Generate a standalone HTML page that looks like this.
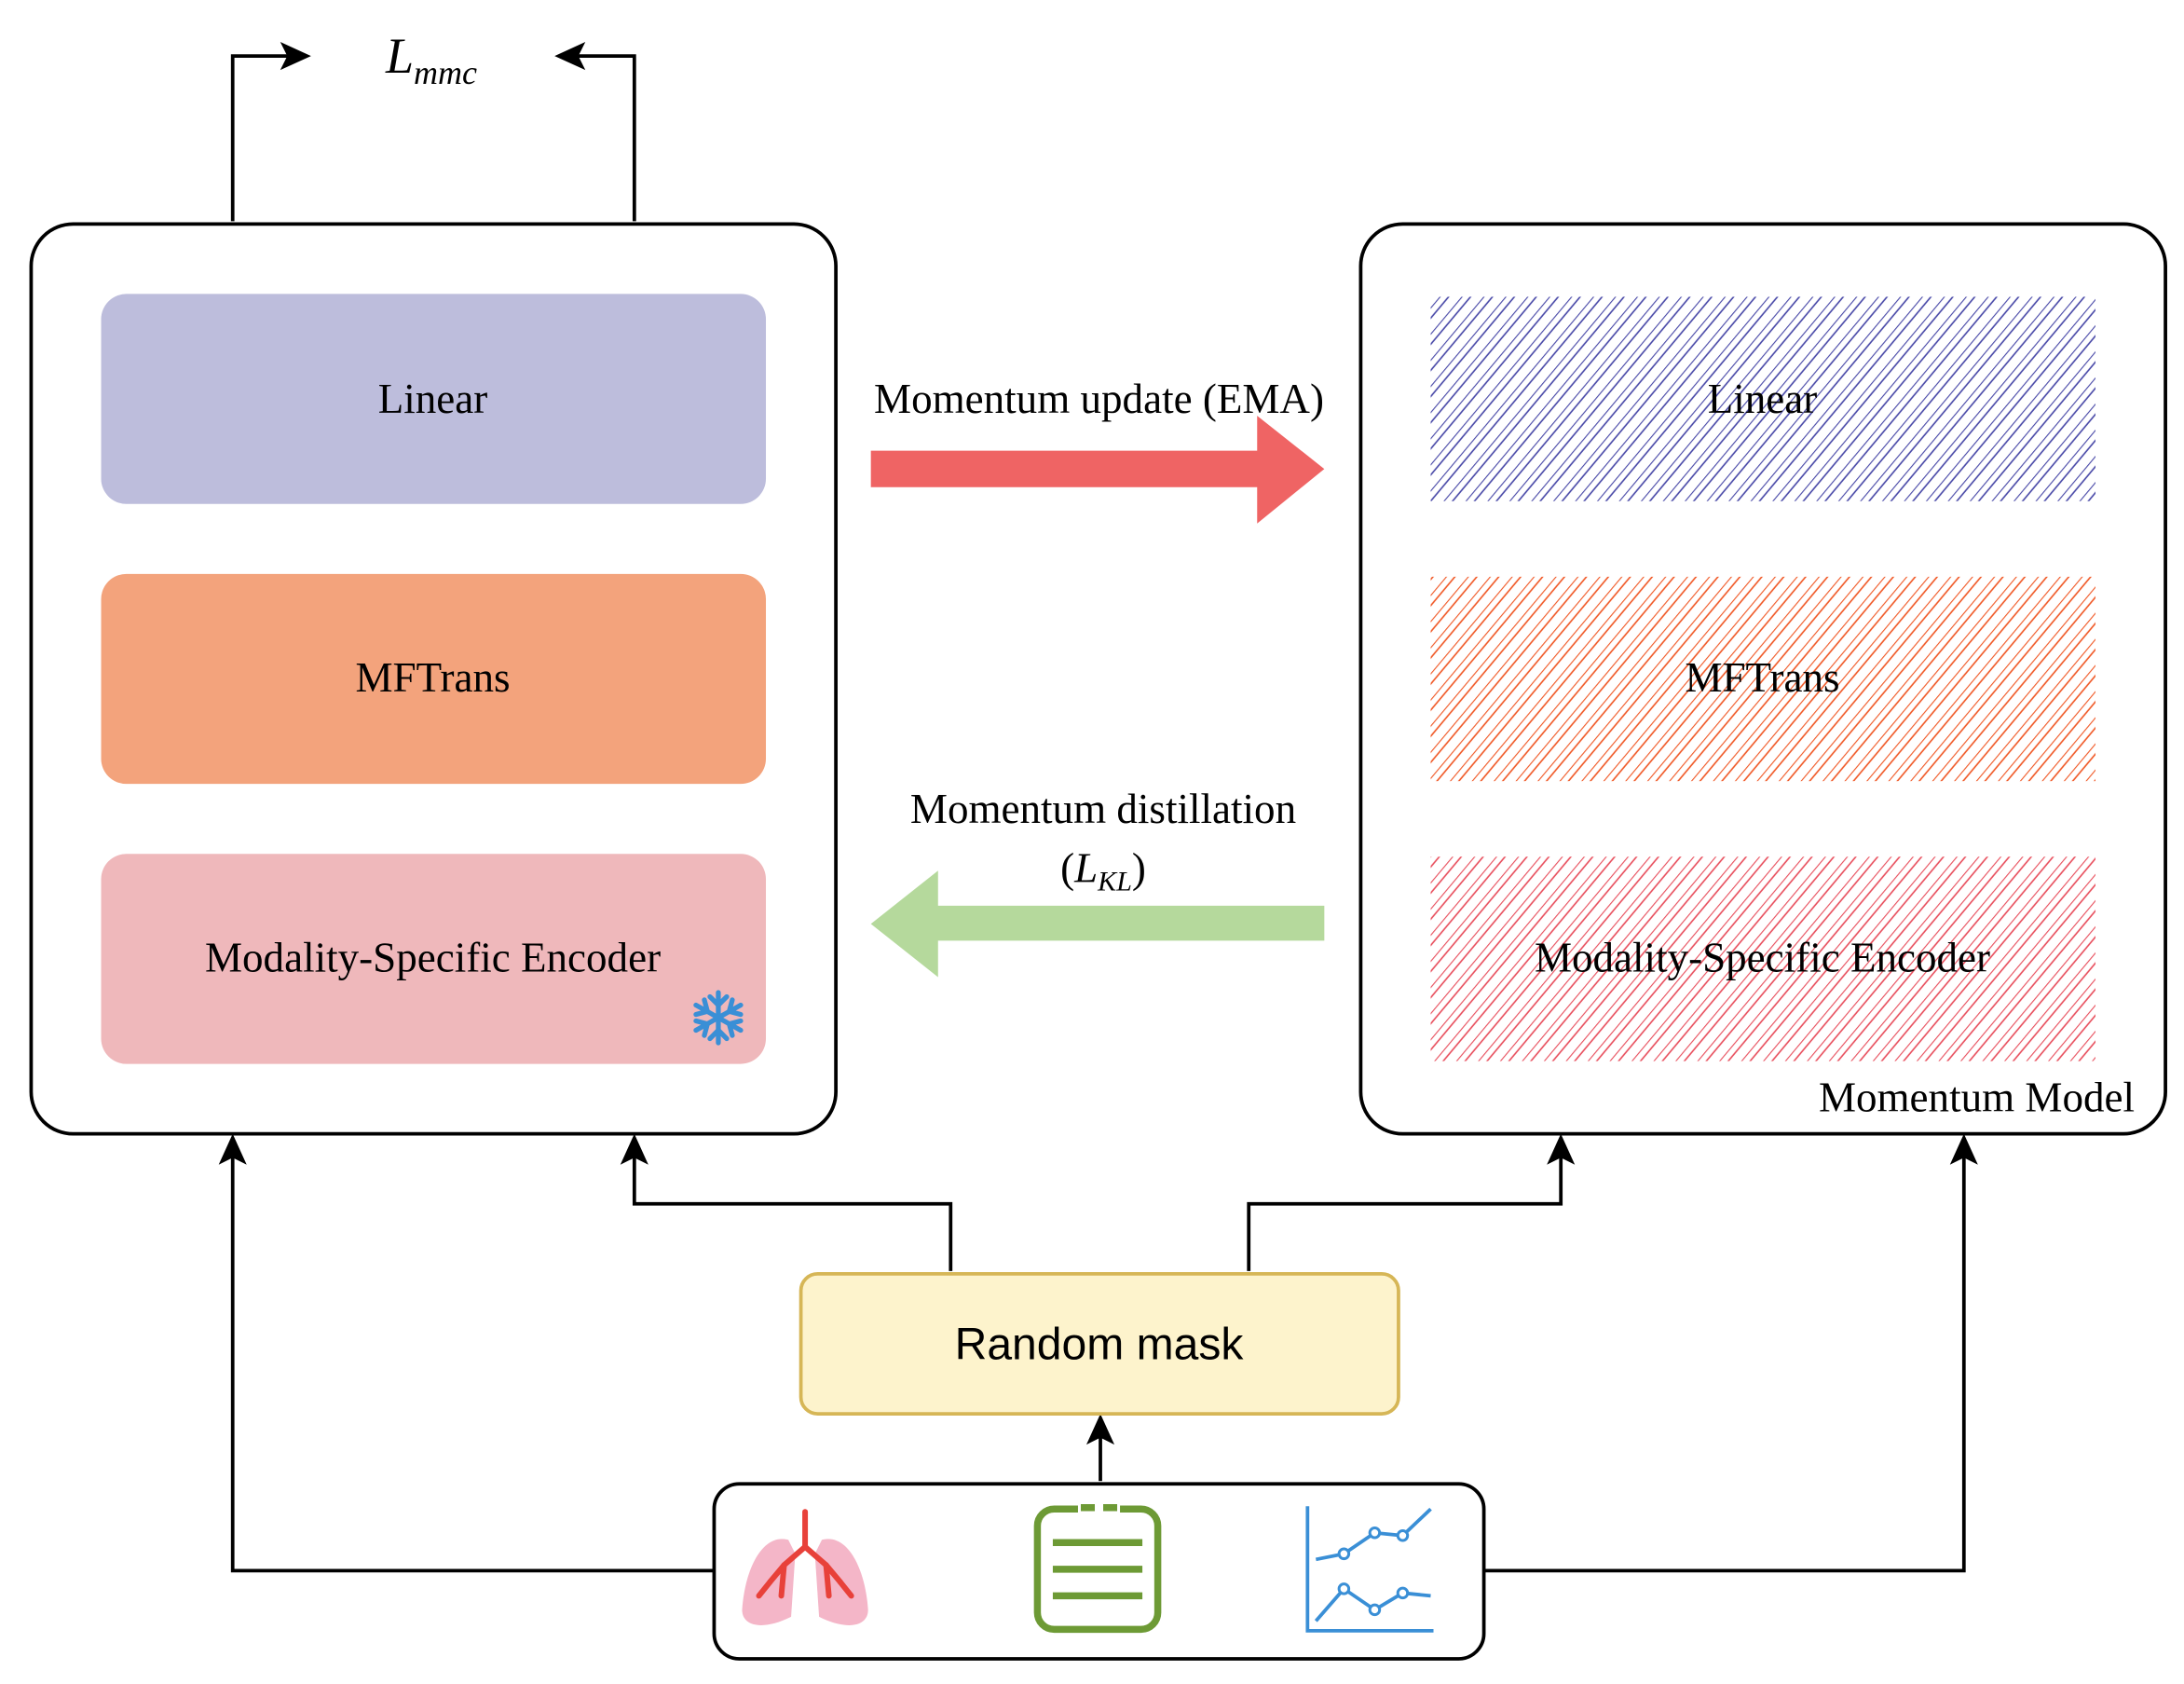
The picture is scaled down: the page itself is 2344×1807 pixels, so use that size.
<!DOCTYPE html>
<html><head><meta charset="utf-8"><style>html,body{margin:0;padding:0;background:#fff}svg{display:block}</style></head>
<body>
<svg width="2344" height="1807" viewBox="0 0 1560 1203" xmlns="http://www.w3.org/2000/svg">
<defs>
<pattern id="hb" width="12" height="14" patternUnits="userSpaceOnUse" patternTransform="rotate(40)"><line x1="0" y1="0" x2="0" y2="14" stroke="#4a4aa8" stroke-width="1.5"/><line x1="5" y1="0" x2="5" y2="14" stroke="#4a4aa8" stroke-width="1.1"/></pattern>
<pattern id="ho" width="12" height="14" patternUnits="userSpaceOnUse" patternTransform="rotate(40)"><line x1="0" y1="0" x2="0" y2="14" stroke="#f05a28" stroke-width="1.5"/><line x1="5" y1="0" x2="5" y2="14" stroke="#f05a28" stroke-width="1.1"/></pattern>
<pattern id="hr" width="12" height="14" patternUnits="userSpaceOnUse" patternTransform="rotate(40)"><line x1="0" y1="0" x2="0" y2="14" stroke="#e8505e" stroke-width="1.5"/><line x1="5" y1="0" x2="5" y2="14" stroke="#e8505e" stroke-width="1.1"/></pattern>
</defs>
<g font-family="Liberation Serif, serif" font-size="30" text-anchor="middle" fill="#000">
<rect x="22" y="160" width="575" height="650" rx="30" fill="#fff" stroke="#000" stroke-width="2.5"/>
<rect x="72" y="210" width="475" height="150" rx="18" fill="#bdbddc"/>
<text x="309" y="295">Linear</text>
<rect x="72" y="410" width="475" height="150" rx="18" fill="#f3a37c"/>
<text x="309" y="494">MFTrans</text>
<rect x="72" y="610" width="475" height="150" rx="18" fill="#efb8bb"/>
<text x="309" y="694">Modality-Specific Encoder</text>
<g stroke="#3a8fd6" stroke-width="3.5" stroke-linecap="round" transform="translate(513,727)">
<line x1="0" y1="-18" x2="0" y2="18"/><line x1="-16" y1="-9" x2="16" y2="9"/><line x1="-16" y1="9" x2="16" y2="-9"/>
<g id="br"><polyline points="-6,-15 0,-9 6,-15" fill="none"/></g>
<use href="#br" transform="rotate(60)"/><use href="#br" transform="rotate(120)"/><use href="#br" transform="rotate(180)"/><use href="#br" transform="rotate(240)"/><use href="#br" transform="rotate(300)"/>
</g>
<rect x="972" y="160" width="575" height="650" rx="30" fill="#fff" stroke="#000" stroke-width="2.5"/>
<rect x="1022" y="212" width="475" height="146" fill="url(#hb)"/>
<text x="1259" y="295">Linear</text>
<rect x="1022" y="412" width="475" height="146" fill="url(#ho)"/>
<text x="1259" y="494">MFTrans</text>
<rect x="1022" y="612" width="475" height="146" fill="url(#hr)"/>
<text x="1259" y="694">Modality-Specific Encoder</text>
<text x="1525" y="794" text-anchor="end">Momentum Model</text>
<polygon points="622,322 898,322 898,297 946,335 898,374 898,348 622,348" fill="#ef6464"/>
<text x="785" y="295">Momentum update (EMA)</text>
<polygon points="622,660 670,622 670,647 946,647 946,672 670,672 670,698" fill="#b5d99c"/>
<text x="788" y="588">Momentum distillation</text>
<text x="788" y="630">(<tspan font-style="italic">L</tspan><tspan font-style="italic" font-size="20" dy="6">KL</tspan><tspan dy="-6">)</tspan></text>
<text x="308" y="52" font-style="italic" font-size="36">L<tspan font-size="24" dy="8">mmc</tspan></text>
</g>
<g fill="none" stroke="#000" stroke-width="2.5">
<polyline points="166,158 166,40 212,40"/>
<polyline points="453,158 453,40 406,40"/>
<polyline points="510,1122 166,1122 166,822"/>
<polyline points="1060,1122 1403,1122 1403,822"/>
<polyline points="679,908 679,860 453,860 453,822"/>
<polyline points="892,908 892,860 1115,860 1115,822"/>
<line x1="786" y1="1058" x2="786" y2="1022"/>
</g>
<g fill="#000">
<polygon points="222,40 200,30 205,40 200,50"/>
<polygon points="396,40 418,30 413,40 418,50"/>
<polygon points="166,810 156,832 166,827 176,832"/>
<polygon points="1403,810 1393,832 1403,827 1413,832"/>
<polygon points="453,810 443,832 453,827 463,832"/>
<polygon points="1115,810 1105,832 1115,827 1125,832"/>
<polygon points="786,1010 776,1032 786,1027 796,1032"/>
</g>
<rect x="572" y="910" width="427" height="100" rx="12" fill="#fdf3cc" stroke="#d6b656" stroke-width="2.5"/>
<text x="785" y="971" font-family="Liberation Sans, sans-serif" font-size="32" text-anchor="middle">Random mask</text>
<rect x="510" y="1060" width="550" height="125" rx="18" fill="#fff" stroke="#000" stroke-width="2.5"/>
<path d="M563,1100 C545,1095 532,1120 530,1150 C530,1162 545,1165 565,1155 L568,1110 Z" fill="#f4b6c8"/>
<path d="M587,1100 C605,1095 618,1120 620,1150 C620,1162 605,1165 585,1155 L582,1110 Z" fill="#f4b6c8"/>
<g stroke="#e8413a" stroke-width="4" fill="none" stroke-linecap="round">
<line x1="575" y1="1080" x2="575" y2="1105"/>
<polyline points="575,1105 560,1118 550,1130"/><polyline points="575,1105 590,1118 600,1130"/>
<polyline points="560,1118 558,1140"/><polyline points="550,1130 542,1140"/>
<polyline points="590,1118 592,1140"/><polyline points="600,1130 608,1140"/>
</g>
<rect x="741" y="1078" width="86" height="86" rx="12" fill="none" stroke="#6d9a35" stroke-width="5"/>
<line x1="770" y1="1078" x2="800" y2="1078" stroke="#fff" stroke-width="7"/>
<line x1="772" y1="1077" x2="798" y2="1077" stroke="#6d9a35" stroke-width="5" stroke-dasharray="10,6"/>
<g stroke="#6d9a35" stroke-width="5"><line x1="752" y1="1102" x2="816" y2="1102"/><line x1="752" y1="1121" x2="816" y2="1121"/><line x1="752" y1="1140" x2="816" y2="1140"/></g>
<g stroke="#3a8fd6" stroke-width="2.5" fill="none">
<polyline points="934,1076 934,1165 1024,1165"/>
<polyline points="940,1114 960,1110 982,1095 1002,1097 1022,1078"/>
<polyline points="940,1158 960,1135 982,1150 1002,1138 1022,1140"/>
</g>
<g fill="#fff" stroke="#3a8fd6" stroke-width="2"><circle cx="960" cy="1110" r="3.5"/><circle cx="982" cy="1095" r="3.5"/><circle cx="1002" cy="1097" r="3.5"/><circle cx="960" cy="1135" r="3.5"/><circle cx="982" cy="1150" r="3.5"/><circle cx="1002" cy="1138" r="3.5"/></g>
</svg>
</body></html>
